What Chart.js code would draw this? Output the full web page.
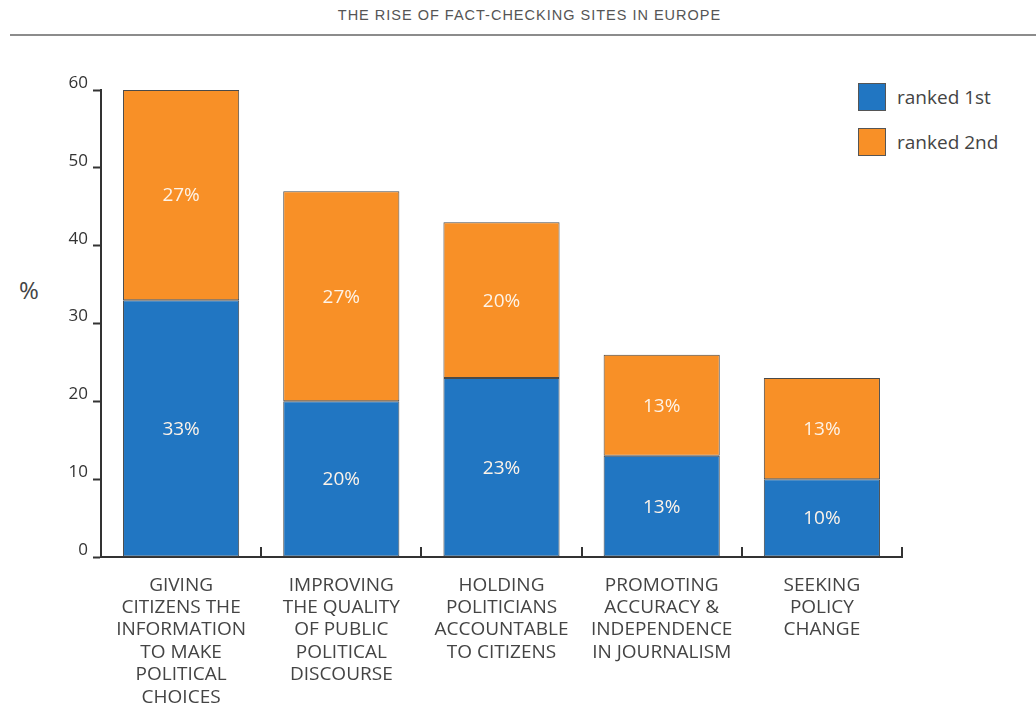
<!DOCTYPE html>
<html>
<head>
<meta charset="utf-8">
<script src="https://cdn.jsdelivr.net/npm/chart.js@4.4.1/dist/chart.umd.min.js"></script>
<style>
body { margin: 0; background: #fff; }
#wrap { position: relative; width: 1036px; height: 707px; overflow: hidden; background: #fff; }
#title { position: absolute; left: 0; width: 1059px; top: 7px; text-align: center; font: 14.5px "Liberation Sans", sans-serif; letter-spacing: 1px; color: #555; }
#rule { position: absolute; left: 10px; right: 0; top: 34px; height: 2px; background: #8c8c8c; }
#ylab { position: absolute; left: 19px; top: 273px; font: 24px "Open Sans", sans-serif; color: #444; }
#legend { position: absolute; left: 858px; top: 83px; font: 19px "Open Sans", sans-serif; color: #444; }
#legend div { height: 45px; display: flex; align-items: flex-start; }
#legend span.sw { display: inline-block; width: 26px; height: 26px; border: 1px solid #555; margin-right: 11px; }
#legend span.tx { line-height: 28px; }
canvas { position: absolute; left: 0; top: 0; }
</style>
</head>
<body>
<div id="wrap">
  <div id="title">THE RISE OF FACT-CHECKING SITES IN EUROPE</div>
  <div id="rule"></div>
  <div id="ylab">%</div>
  <div id="legend"></div>
  <canvas id="chart-1" width="1036" height="707"></canvas>
</div>
<script>
var categories = [
    ["GIVING", "CITIZENS THE", "INFORMATION", "TO MAKE", "POLITICAL", "CHOICES"],
    ["IMPROVING", "THE QUALITY", "OF PUBLIC", "POLITICAL", "DISCOURSE"],
    ["HOLDING", "POLITICIANS", "ACCOUNTABLE", "TO CITIZENS"],
    ["PROMOTING", "ACCURACY &", "INDEPENDENCE", "IN JOURNALISM"],
    ["SEEKING", "POLICY", "CHANGE"]
];
var rankedFirst  = [33, 20, 23, 13, 10];
var rankedSecond = [27, 27, 20, 13, 13];
var seriesNames  = ["ranked 1st", "ranked 2nd"];
var seriesColors = ["#2176c2", "#f89027"];
var yMax = 60;
var yStep = 10;

var blue = seriesColors[0];
var orange = seriesColors[1];

// legend
var legendHtml = '';
for (var i = 0; i < seriesNames.length; i++) {
    legendHtml += '<div><span class="sw" style="background:' + seriesColors[i] + '"></span><span class="tx">' + seriesNames[i] + '</span></div>';
}
document.getElementById('legend').innerHTML = legendHtml;

// percent labels in the middle of each segment
var segmentLabels = {
    id: 'segmentLabels',
    afterDatasetsDraw: function(chart) {
        var ctx = chart.ctx;
        ctx.save();
        ctx.font = '19px "Open Sans"';
        ctx.fillStyle = '#fdf3e8';
        ctx.textAlign = 'center';
        ctx.textBaseline = 'middle';
        chart.data.datasets.forEach(function(ds, di) {
            var meta = chart.getDatasetMeta(di);
            meta.data.forEach(function(bar, idx) {
                var c = bar.getCenterPoint();
                ctx.fillText(ds.data[idx] + '%', c.x, c.y + 1);
            });
        });
        ctx.restore();
    }
};

// small upward ticks between the categories
var innerTicks = {
    id: 'innerTicks',
    afterDraw: function(chart) {
        var ctx = chart.ctx;
        var xs = chart.scales.x;
        var bottom = chart.chartArea.bottom;
        ctx.save();
        ctx.strokeStyle = '#333';
        ctx.lineWidth = 2;
        for (var i = 0; i < categories.length; i++) {
            var px = Math.round(xs.getPixelForValue(i + 0.5));
            ctx.beginPath();
            ctx.moveTo(px, bottom);
            ctx.lineTo(px, bottom - 10);
            ctx.stroke();
        }
        ctx.restore();
    }
};

var chartConfig = {
    type: 'bar',
    data: {
        labels: categories,
        datasets: [{
            label: seriesNames[0],
            data: rankedFirst,
            backgroundColor: blue,
            borderColor: '#4a4a4a',
            borderWidth: 1,
            borderSkipped: false
        }, {
            label: seriesNames[1],
            data: rankedSecond,
            backgroundColor: orange,
            borderColor: '#4a4a4a',
            borderWidth: 1,
            borderSkipped: false
        }]
    },
    options: {
        responsive: false,
        animation: false,
        layout: {
            padding: { left: 56, right: 134, top: 90, bottom: 0 }
        },
        plugins: {
            legend: { display: false },
            title: { display: false },
            tooltip: { enabled: false }
        },
        datasets: {
            bar: { categoryPercentage: 1, barPercentage: 0.725 }
        },
        scales: {
            x: {
                stacked: true,
                grid: { display: false },
                border: { display: true, color: '#333', width: 2 },
                ticks: {
                    color: '#444',
                    padding: 9,
                    maxRotation: 0,
                    autoSkip: false,
                    font: { family: 'Open Sans', size: 19, lineHeight: 1.18 }
                },
                afterFit: function(s) { s.height = 150; }
            },
            y: {
                stacked: true,
                min: 0,
                max: yMax,
                grid: {
                    drawOnChartArea: false,
                    drawTicks: true,
                    tickLength: 8,
                    tickWidth: 2,
                    tickColor: '#333'
                },
                border: { display: true, color: '#333', width: 2 },
                ticks: {
                    stepSize: yStep,
                    color: '#333',
                    padding: 5,
                    labelOffset: -7,
                    font: { family: 'Open Sans', size: 17 }
                },
                afterFit: function(s) { s.width = 45; }
            }
        }
    },
    plugins: [segmentLabels, innerTicks]
};

var chart1 = new Chart(document.getElementById('chart-1'), chartConfig);
</script>
</body>
</html>
